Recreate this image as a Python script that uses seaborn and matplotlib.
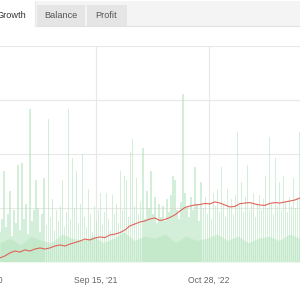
import matplotlib
matplotlib.use("Agg")
import matplotlib.pyplot as plt
from matplotlib.patches import Rectangle
from matplotlib.lines import Line2D
import pandas as pd
import seaborn as sns

# growth curve (%), sampled evenly from first to last visible date
growth_start = "2020-10-03"
growth_end = "2023-09-21"
growth = [1.9, 2.8, 4.2, 5.1, 4.6, 5.6, 5.1, 6.0, 6.5, 6.0,
          6.5, 7.4, 7.9, 7.4, 8.3, 9.0, 9.7, 10.6, 10.2, 11.1,
          11.6, 11.3, 12.5, 12.9, 13.6, 14.8, 16.7, 17.6, 18.5, 19.0,
          19.9, 20.4, 19.2, 19.7, 20.6, 21.8, 23.6, 25.2, 25.9, 26.4,
          26.6, 27.1, 26.9, 27.8, 27.3, 26.4, 25.5, 25.7, 27.0, 27.3,
          27.5, 26.9, 26.4, 26.2, 27.1, 27.5, 27.3, 27.8, 28.2, 28.7,
          29.6]

# weekly activity spikes (same scale)
volume = [14, 20, 42, 16, 22, 33, 12, 24, 18, 45,
          15, 46, 20, 27, 13, 71, 19, 24, 38, 25,
          14, 22, 39, 17, 66, 21, 29, 15, 24, 19,
          26, 38, 16, 23, 71, 20, 48, 25, 42, 18,
          27, 50, 21, 16, 34, 22, 14, 26, 19, 24,
          32, 17, 23, 32, 20, 15, 31, 22, 27, 18,
          42, 24, 40, 38, 21, 51, 57, 26, 39, 22,
          28, 53, 20, 33, 25, 42, 22, 30, 18, 27,
          21, 26, 19, 29, 23, 31, 40, 38, 24, 20,
          28, 78, 32, 25, 21, 30, 24, 44, 27, 19,
          37, 25, 30, 22, 28, 20, 32, 26, 34, 23,
          44, 27, 21, 34, 25, 29, 22, 31, 60, 26,
          37, 23, 30, 45, 24, 28, 32, 21, 27, 31,
          24, 29, 40, 25, 58, 27, 22, 48, 26, 37,
          24, 40, 28, 23, 30, 26, 39, 25, 29, 60]

# dense low band under the spikes
band = [9, 11, 8, 12, 10, 9, 13, 11, 10, 12,
        9, 11, 14, 10, 12, 11, 13, 9, 12, 10,
        11, 13, 10, 12, 9, 11, 12, 10, 13, 11]

tick_dates = ["2020-08-03", "2021-09-15", "2022-10-28"]
tick_labels = ["Aug 3, '20", "Sep 15, '21", "Oct 28, '22"]
tabs = ["Growth", "Balance", "Profit"]

sns.set_theme(style="white")
plt.rcParams['font.family'] = ['Liberation Sans', 'DejaVu Sans']

fig = plt.figure(figsize=(3, 3), dpi=100)
W = H = 300


def px(x0, y0, w, h):
    return [x0 / W, 1 - (y0 + h) / H, w / W, h / H]


# tab bar
for rect, col in [(px(35, 1, 265, 25), '#f4f4f4'),
                  (px(37, 5, 48, 21), '#e5e5e5'),
                  (px(87, 5, 40, 21), '#e5e5e5')]:
    fig.patches.append(Rectangle(rect[:2], rect[2], rect[3], transform=fig.transFigure,
                                 facecolor=col, edgecolor='none', zorder=0))
fig.lines.append(Line2D([35 / W, 1], [1 - 26 / H] * 2, transform=fig.transFigure,
                        color='#e2e2e2', linewidth=0.8))
fig.lines.append(Line2D([35 / W, 35 / W], [1 - 26 / H, 1 - 1 / H], transform=fig.transFigure,
                        color='#e8e8e8', linewidth=0.8))
for name, cx in zip(tabs, [11.5, 60.5, 106.5]):
    fig.text(cx / W, 1 - 15.5 / H, name, ha='center', va='center',
             fontsize=6.6, color='#333333' if name == 'Growth' else '#555555')

# chart, wider than the canvas (cropped screenshot)
ax = fig.add_axes(px(-30, 46, 360, 216))

vol_dates = pd.date_range(growth_start, growth_end, periods=len(volume))
band_dates = pd.date_range(growth_start, growth_end, periods=len(band))
line_dates = pd.date_range(growth_start, growth_end, periods=len(growth))

ax.fill_between(band_dates, band, color='#c4e9ca', alpha=0.6, linewidth=0)
ax.bar(vol_dates, volume, width=5, color='#b2e2ba', alpha=0.55, linewidth=0)
sns.lineplot(x=line_dates, y=growth, color='#e0645a', linewidth=0.8, ax=ax, zorder=5)

ax.set_xlim(pd.Timestamp("2020-06-17"), pd.Timestamp("2024-01-08"))
ax.set_ylim(0, 100)
ax.set_yticks([0, 25, 50, 75, 100])
ax.set_xticks(pd.to_datetime(tick_dates))
ax.set_xticklabels(tick_labels)
ax.tick_params(axis='x', length=0, pad=10, labelsize=6.2, labelcolor='#666666')
ax.tick_params(axis='y', labelleft=False, length=0)
ax.grid(True, color='#e8e8e8', linewidth=0.8)
ax.set_axisbelow(True)
for s in ax.spines.values():
    s.set_visible(False)
ax.set_xlabel('')
ax.set_ylabel('')

fig.savefig('out.png', dpi=100)
